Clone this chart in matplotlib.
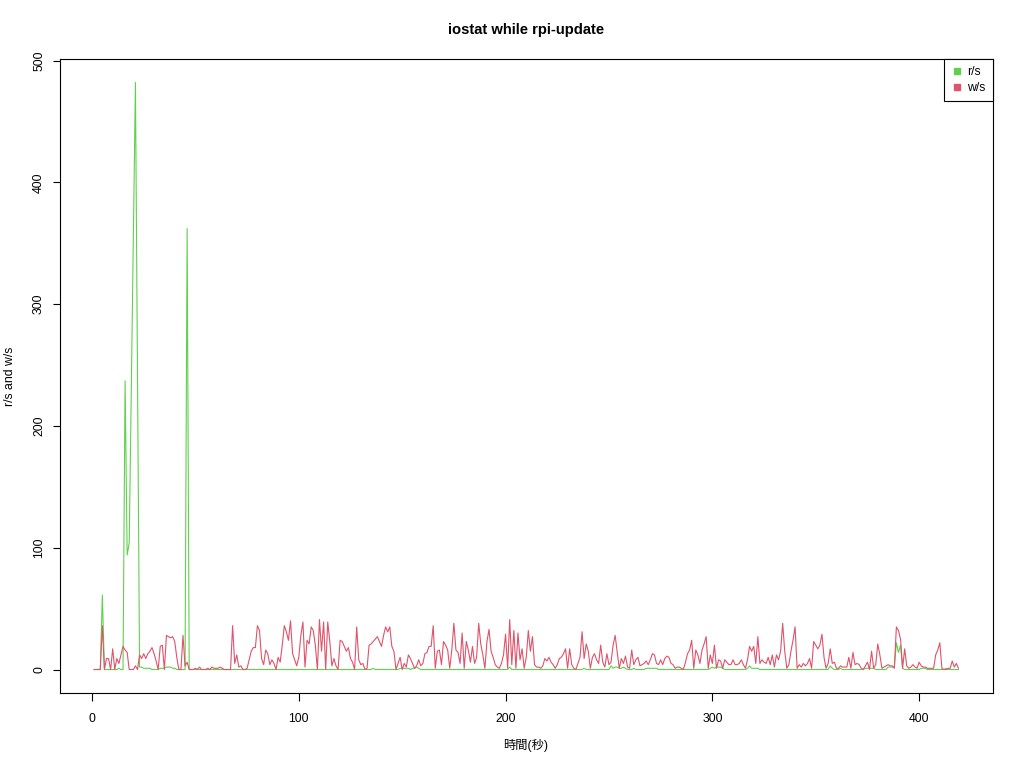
import matplotlib
matplotlib.use("Agg")
import matplotlib.pyplot as plt
from matplotlib.lines import Line2D
import numpy as np

# iostat samples, one per second (r/s and w/s)
r_per_s = [
    0, 0, 0, 0, 61, 0, 0, 0, 0, 0,
    0, 0, 1, 0, 0, 237, 94, 104, 230, 356,
    482, 240, 2, 2, 1, 1, 1, 1, 0, 0,
    0, 0, 1, 1, 1, 2, 2, 2, 1, 1,
    0, 0, 0, 0, 0, 362, 0, 0, 0, 0,
    0, 0, 0, 0, 0, 0, 0, 0, 0, 0,
    0, 0, 0, 0, 0, 0, 0, 0, 0, 0,
    0, 0, 0, 0, 0, 0, 0, 0, 0, 0,
    0, 0, 0, 0, 0, 0, 0, 0, 0, 0,
    0, 0, 0, 0, 0, 0, 0, 0, 0, 0,
    0, 0, 0, 0, 0, 0, 0, 0, 0, 0,
    0, 0, 0, 0, 0, 0, 0, 0, 0, 0,
    0, 0, 0, 0, 0, 0, 0, 0, 0, 0,
    0, 0, 0, 0, 0, 1, 0, 0, 0, 0,
    0, 0, 0, 0, 0, 0, 0, 0, 1, 1,
    1, 1, 1, 0, 1, 1, 2, 1, 0, 0,
    0, 0, 0, 0, 0, 0, 0, 0, 0, 0,
    0, 0, 0, 0, 0, 0, 0, 0, 0, 0,
    0, 0, 0, 0, 0, 0, 0, 0, 0, 0,
    0, 0, 0, 0, 0, 0, 0, 0, 0, 0,
    0, 2, 0, 0, 0, 0, 0, 0, 0, 0,
    0, 0, 0, 0, 0, 0, 0, 0, 0, 0,
    0, 0, 0, 0, 0, 0, 0, 0, 0, 0,
    0, 0, 0, 0, 0, 0, 0, 1, 0, 0,
    0, 0, 0, 0, 0, 0, 0, 0, 0, 0,
    3, 1, 2, 2, 1, 1, 2, 1, 0, 0,
    0, 1, 0, 0, 0, 0, 0, 1, 1, 1,
    1, 1, 1, 0, 0, 0, 0, 0, 0, 0,
    0, 0, 0, 0, 0, 0, 0, 0, 0, 0,
    0, 0, 0, 0, 0, 0, 0, 0, 1, 2,
    1, 2, 2, 2, 1, 0, 0, 0, 0, 0,
    0, 0, 0, 0, 0, 0, 1, 3, 1, 1,
    1, 1, 0, 0, 0, 0, 0, 0, 0, 0,
    0, 0, 0, 0, 0, 0, 0, 0, 0, 0,
    0, 0, 0, 0, 0, 0, 0, 0, 0, 0,
    0, 0, 0, 0, 0, 0, 3, 1, 0, 0,
    0, 1, 0, 0, 0, 0, 0, 0, 0, 0,
    0, 0, 0, 1, 1, 1, 1, 1, 0, 0,
    0, 0, 0, 0, 2, 2, 2, 2, 22, 14,
    20, 1, 0, 0, 0, 0, 0, 0, 0, 0,
    1, 1, 1, 0, 0, 0, 0, 0, 0, 0,
    0, 0, 1, 0, 0, 0, 0, 0, 0,
]

w_per_s = [
    0, 0, 0, 0, 36, 0, 9, 9, 0, 17,
    0, 9, 5, 12, 19, 16, 14, 0, 0, 0,
    3, 0, 12, 9, 13, 9, 13, 15, 18, 13,
    7, 0, 19, 20, 0, 28, 27, 26, 27, 23,
    10, 0, 0, 28, 3, 6, 0, 0, 0, 1,
    0, 2, 0, 0, 0, 1, 0, 2, 1, 1,
    1, 2, 1, 0, 0, 0, 0, 36, 5, 12,
    2, 3, 0, 0, 1, 8, 15, 18, 18, 36,
    32, 9, 4, 16, 13, 4, 8, 5, 0, 10,
    6, 20, 36, 31, 24, 40, 13, 8, 3, 10,
    28, 39, 2, 24, 21, 35, 32, 20, 0, 41,
    15, 39, 0, 39, 23, 3, 9, 3, 0, 24,
    23, 19, 15, 18, 9, 6, 0, 35, 8, 4,
    5, 0, 1, 20, 21, 23, 25, 27, 23, 19,
    28, 35, 31, 35, 19, 15, 0, 5, 10, 0,
    5, 2, 12, 9, 5, 1, 3, 8, 3, 5,
    13, 14, 19, 19, 36, 1, 15, 16, 4, 23,
    20, 16, 1, 16, 38, 16, 14, 5, 30, 1,
    23, 16, 6, 19, 5, 10, 38, 21, 12, 1,
    23, 33, 15, 10, 4, 2, 1, 5, 12, 29,
    1, 41, 4, 32, 1, 30, 8, 17, 1, 10,
    32, 15, 27, 4, 2, 2, 1, 3, 9, 7,
    10, 6, 4, 1, 4, 9, 10, 13, 17, 1,
    17, 4, 1, 0, 5, 10, 31, 9, 21, 15,
    1, 10, 13, 8, 5, 20, 6, 2, 13, 4,
    6, 20, 28, 14, 1, 9, 5, 11, 2, 1,
    16, 4, 8, 10, 3, 4, 5, 7, 4, 8,
    13, 12, 5, 4, 8, 4, 9, 11, 10, 5,
    4, 1, 2, 2, 1, 0, 6, 13, 16, 24,
    1, 16, 12, 5, 16, 21, 27, 1, 12, 5,
    20, 1, 8, 7, 1, 8, 6, 4, 4, 8,
    4, 4, 5, 8, 4, 1, 8, 19, 15, 19,
    5, 27, 5, 8, 6, 5, 10, 4, 12, 2,
    12, 8, 15, 38, 15, 1, 4, 15, 24, 35,
    1, 4, 2, 5, 3, 5, 9, 1, 23, 20,
    17, 20, 29, 10, 1, 5, 17, 5, 6, 1,
    1, 3, 2, 2, 2, 10, 1, 14, 4, 5,
    4, 1, 0, 3, 6, 0, 15, 1, 4, 21,
    12, 1, 2, 3, 4, 3, 3, 1, 35, 32,
    25, 1, 17, 3, 1, 2, 4, 2, 1, 6,
    3, 2, 2, 1, 1, 1, 1, 12, 16, 22,
    1, 0, 0, 1, 1, 7, 2, 5, 1,
]

series_labels = ["r/s", "w/s"]
x_ticks = [0, 100, 200, 300, 400]
y_ticks = [0, 100, 200, 300, 400, 500]

GREEN = "#61D04F"
RED = "#DF536B"

plt.rcParams['font.family'] = ['Liberation Sans', 'Noto Sans CJK JP', 'DejaVu Sans']

t = np.arange(1, len(r_per_s) + 1)
fig = plt.figure(figsize=(10.24, 7.68), dpi=100)
ax = fig.add_axes([59.5 / 1024, (768 - 693) / 768, (993 - 59.5) / 1024, (693 - 59) / 768])

ax.plot(t, r_per_s, color=GREEN, lw=0.8)
ax.plot(t, w_per_s, color=RED, lw=0.8)

# R style 4% padding
xr = t.max() - t.min()
ymax = max(max(r_per_s), max(w_per_s))
ax.set_xlim(t.min() - 0.04 * xr, t.max() + 0.04 * xr)
ax.set_ylim(-0.04 * ymax, ymax * 1.04)

for s in ax.spines.values():
    s.set_linewidth(0.8)
    s.set_color("black")

ax.set_xticks(x_ticks)
ax.set_yticks(y_ticks)
ax.tick_params(axis='both', length=5.4, width=0.8, labelsize=8.8, direction='out')
ax.tick_params(axis='x', pad=9)
ax.tick_params(axis='y', pad=5, labelrotation=90)
for lab in ax.get_yticklabels():
    lab.set_va('center')

fig.text(526, 768 - 30, "iostat while rpi-update", transform=None,
         ha='center', va='center', fontsize=10.6, fontweight='bold')
fig.text(526, 768 - 745, "時間(秒)", transform=None,
         ha='center', va='center', fontsize=8.8)
fig.text(10, 768 - 376, "r/s and w/s", transform=None,
         ha='center', va='center', fontsize=8.8, rotation=90)

handles = [Line2D([], [], marker='s', linestyle='none', color=c, markersize=4.5)
           for c in (GREEN, RED)]
leg = ax.legend(handles, series_labels, loc='upper right', borderaxespad=0,
                fancybox=False, framealpha=1, edgecolor='black', fontsize=8.8,
                handlelength=0.9, handletextpad=0.4, labelspacing=0.3,
                borderpad=0.6)
leg.get_frame().set_linewidth(0.8)

fig.savefig("out.png", dpi=100)
